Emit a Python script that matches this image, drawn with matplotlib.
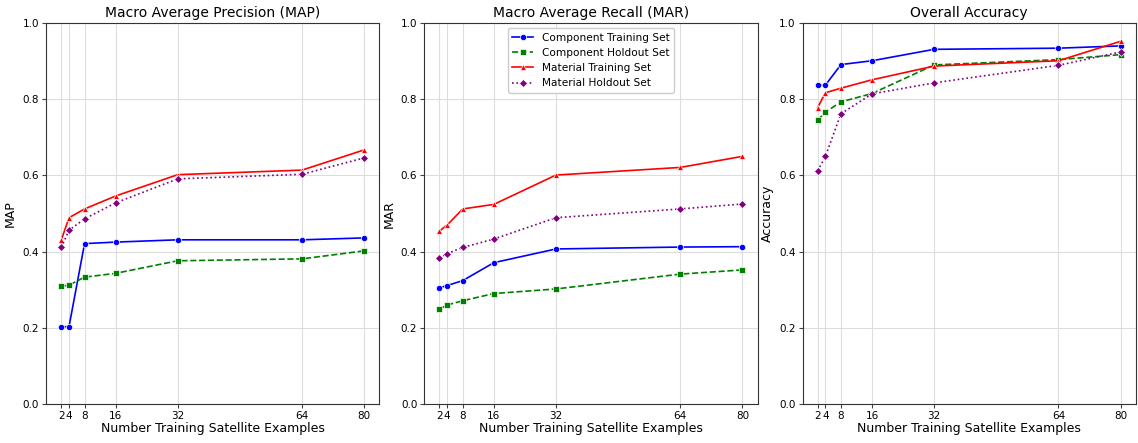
import matplotlib.pyplot as plt
import numpy as np

# x = number of training satellite examples
n_examples = [2, 4, 8, 16, 32, 64, 80]

series_names = ["Component Training Set", "Component Holdout Set",
                "Material Training Set", "Material Holdout Set"]

# Macro average precision
map_comp_train = [0.203, 0.203, 0.421, 0.425, 0.431, 0.431, 0.436]
map_comp_hold = [0.309, 0.312, 0.333, 0.343, 0.376, 0.381, 0.402]
map_mat_train = [0.430, 0.489, 0.512, 0.546, 0.602, 0.614, 0.667]
map_mat_hold = [0.411, 0.456, 0.486, 0.528, 0.591, 0.603, 0.646]

# Macro average recall
mar_comp_train = [0.305, 0.311, 0.324, 0.371, 0.407, 0.412, 0.413]
mar_comp_hold = [0.249, 0.260, 0.271, 0.290, 0.302, 0.341, 0.352]
mar_mat_train = [0.454, 0.470, 0.512, 0.524, 0.601, 0.621, 0.650]
mar_mat_hold = [0.383, 0.395, 0.411, 0.433, 0.489, 0.512, 0.525]

# Overall accuracy
acc_comp_train = [0.837, 0.837, 0.891, 0.901, 0.931, 0.934, 0.940]
acc_comp_hold = [0.745, 0.766, 0.793, 0.815, 0.890, 0.904, 0.917]
acc_mat_train = [0.778, 0.817, 0.829, 0.851, 0.887, 0.901, 0.952]
acc_mat_hold = [0.612, 0.650, 0.762, 0.814, 0.843, 0.889, 0.924]

styles = [
    dict(color="blue", linestyle="-", marker="o", markersize=4.5),
    dict(color="green", linestyle="--", marker="s", markersize=4.5),
    dict(color="red", linestyle="-", marker="^", markersize=4.5),
    dict(color="purple", linestyle=":", marker="D", markersize=4),
]

panels = [
    ("Macro Average Precision (MAP)", "MAP",
     [map_comp_train, map_comp_hold, map_mat_train, map_mat_hold]),
    ("Macro Average Recall (MAR)", "MAR",
     [mar_comp_train, mar_comp_hold, mar_mat_train, mar_mat_hold]),
    ("Overall Accuracy", "Accuracy",
     [acc_comp_train, acc_comp_hold, acc_mat_train, acc_mat_hold]),
]

fig, axes = plt.subplots(1, 3, figsize=(11.38, 4.43), dpi=100)

for i, (ax, (title, ylabel, data)) in enumerate(zip(axes, panels)):
    for name, vals, st in zip(series_names, data, styles):
        ax.plot(n_examples, vals, label=name, linewidth=1.2,
                markeredgecolor="white", markeredgewidth=0.5, **st)
    ax.set_title(title, fontsize=10, pad=4)
    ax.set_ylabel(ylabel, fontsize=9, labelpad=4)
    ax.set_xlabel("Number Training Satellite Examples", fontsize=9, labelpad=1)
    ax.set_ylim(0, 1.0)
    ax.set_xticks(n_examples)
    ax.set_yticks(np.arange(0, 1.01, 0.2))
    ax.tick_params(labelsize=7.5, length=3, width=0.8, color="#444444", pad=2)
    ax.grid(True, color="#dddddd", linewidth=0.8)
    for sp in ax.spines.values():
        sp.set_color("#333333")
    if i == 1:
        ax.legend(loc="upper center", fontsize=7.6, framealpha=1.0)

plt.subplots_adjust(left=0.0405, right=0.998, top=0.948, bottom=0.088, wspace=0.135)
plt.savefig("out.png", dpi=100)
